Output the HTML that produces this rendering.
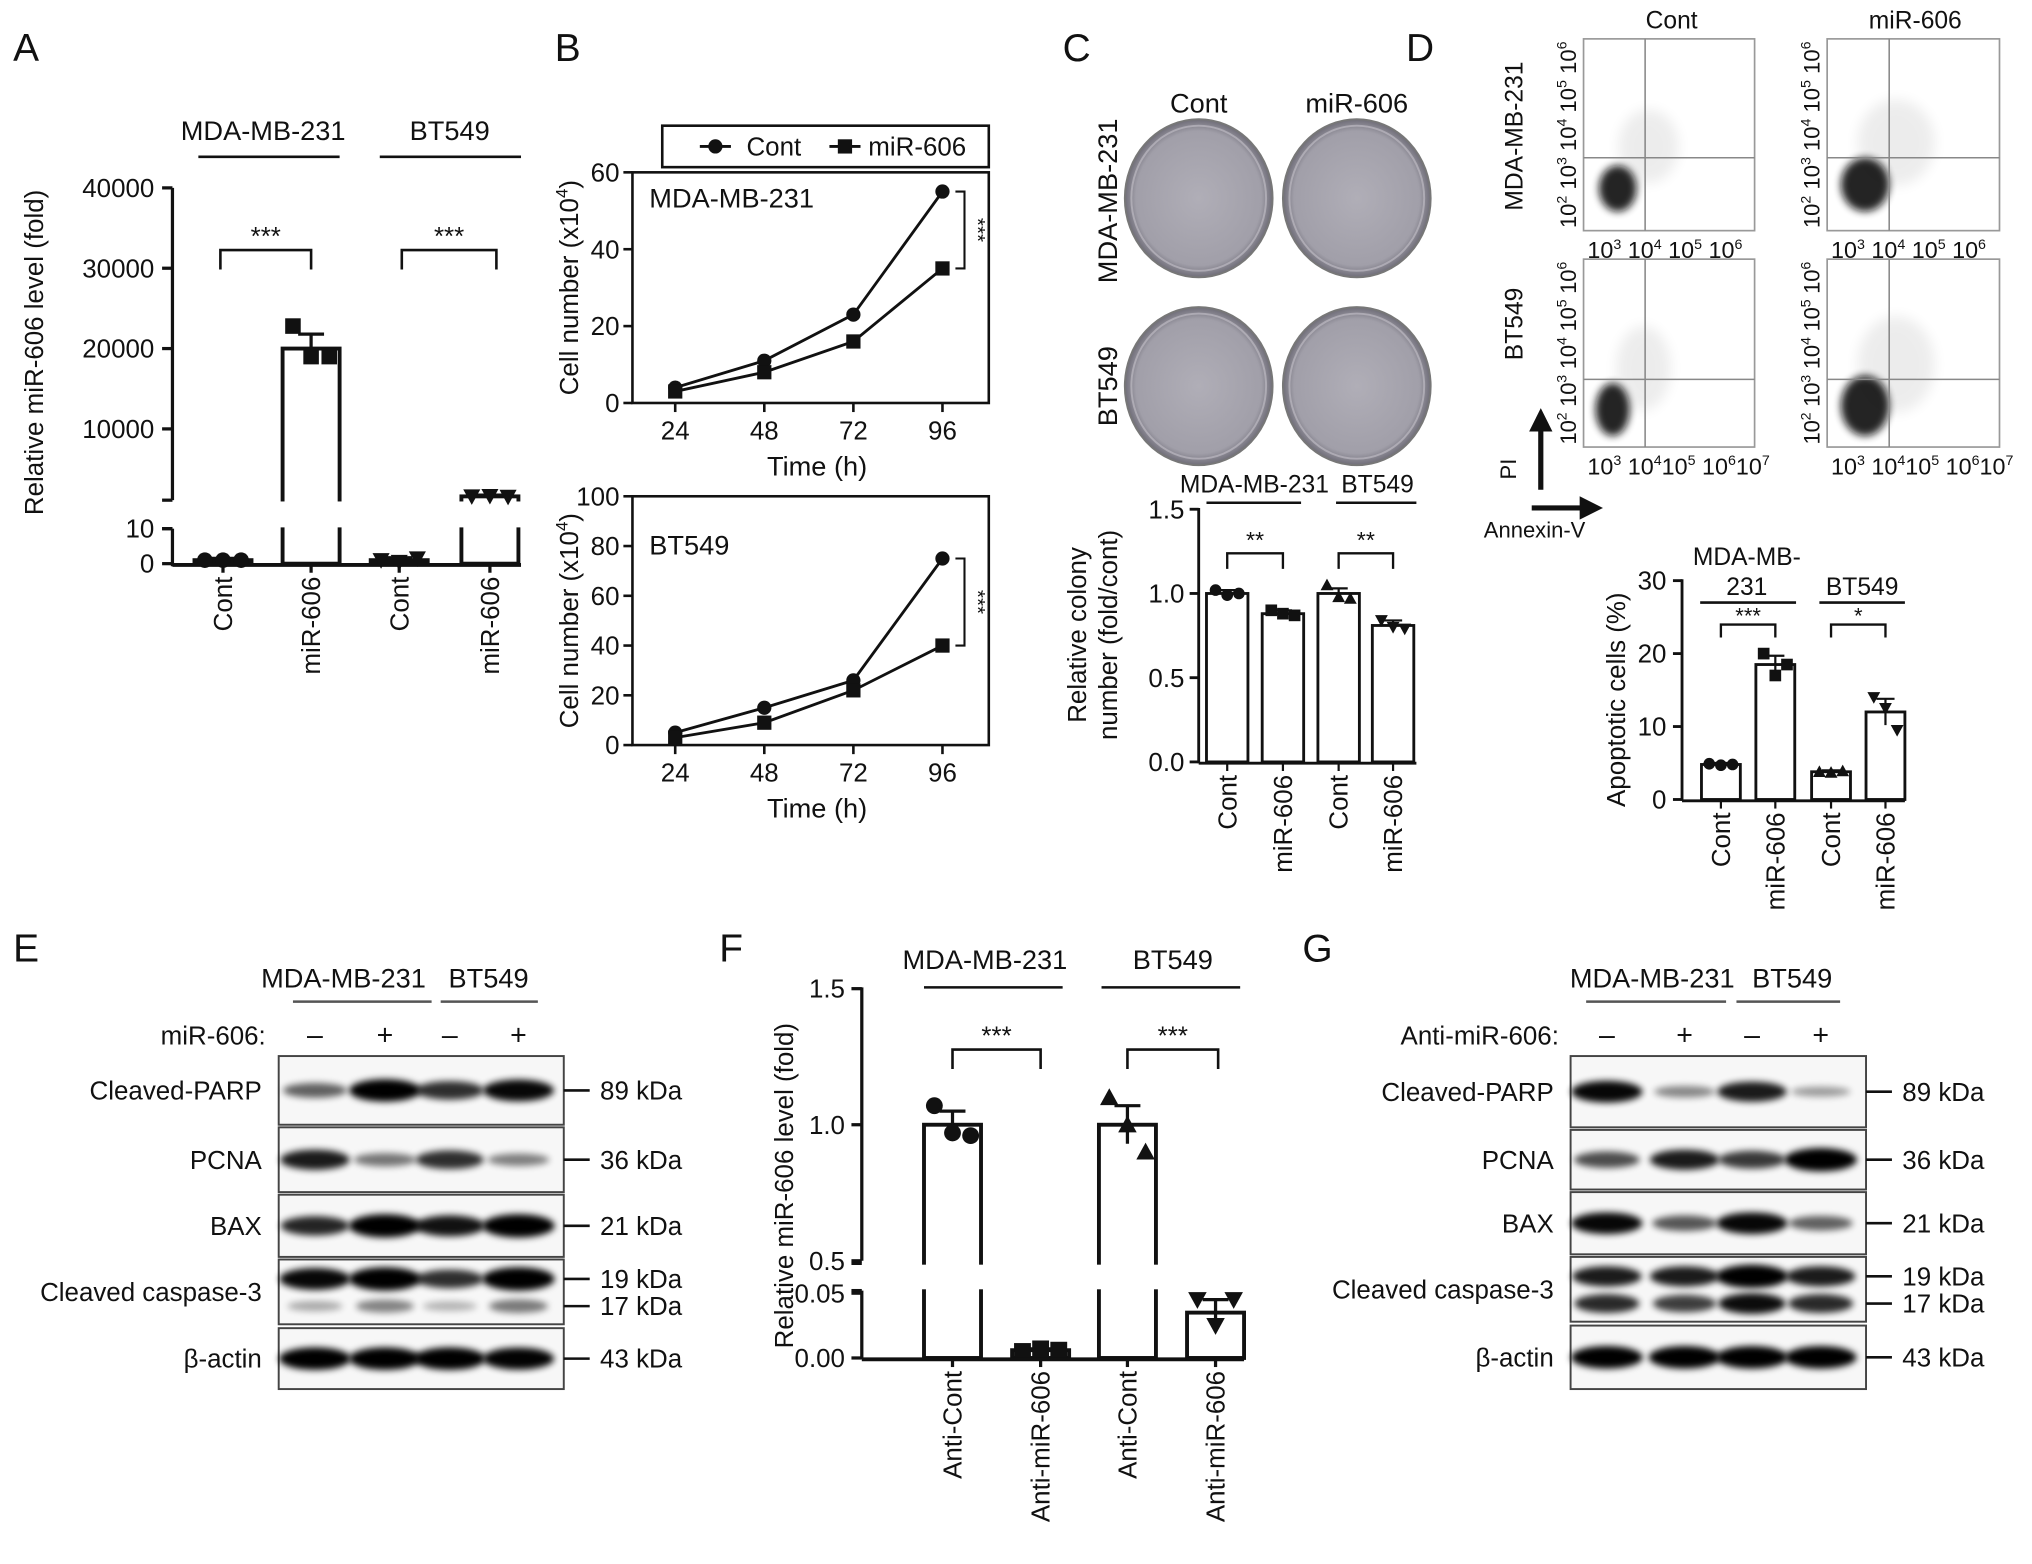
<!DOCTYPE html>
<html><head><meta charset="utf-8">
<style>
html,body{margin:0;padding:0;background:#fff;}
svg{display:block;font-family:"Liberation Sans",Arial,sans-serif;}
text{fill:#111;}
</style></head>
<body>
<svg id="fig" width="2032" height="1564" viewBox="0 0 1568 1207" xmlns="http://www.w3.org/2000/svg">
<defs>
<filter id="blur2" x="-30%" y="-80%" width="160%" height="260%"><feGaussianBlur stdDeviation="2.6"/></filter>
<filter id="blur6" x="-50%" y="-50%" width="200%" height="200%"><feGaussianBlur stdDeviation="5"/></filter>
<filter id="blur3" x="-50%" y="-50%" width="200%" height="200%"><feGaussianBlur stdDeviation="3"/></filter>
<radialGradient id="plate" cx="50%" cy="50%" r="50%">
<stop offset="0%" stop-color="#b0aeb7"/><stop offset="85%" stop-color="#a19fa9"/><stop offset="100%" stop-color="#6f6d78"/>
</radialGradient>
</defs>

<text x="10" y="47" font-size="30">A</text>
<text x="428" y="47" font-size="30">B</text>
<text x="820" y="47" font-size="30">C</text>
<text x="1085" y="47" font-size="30">D</text>
<text x="10" y="742" font-size="30">E</text>
<text x="555" y="742" font-size="30">F</text>
<text x="1005" y="742" font-size="30">G</text>

<g id="gA"></g>
<g id="gB1"></g>
<g id="gB2"></g>
<g id="gC"></g>
<g id="gD"></g>
<g id="gE"></g>
<g id="gF"></g>
<g id="gG"></g>
</svg>

<script>
// ===== Data arrays =====
const A_cats = ['Cont','miR-606','Cont','miR-606'];
const A_means = [1, 20000, 1, 1600];
const A_errs = [0.5, 1800, 0.7, 150];
const A_pts = [[1,1,1],[22800,19000,19000],[1,0.5,1.5],[1600,1650,1550]];
const A_ticks = [0,10,10000,20000,30000,40000];

const B_times = [24,48,72,96];
const B1_cont = [4,11,23,55];
const B1_mir = [3,8,16,35];
const B1_ticks = [0,20,40,60];
const B2_cont = [5,15,26,75];
const B2_mir = [3,9,22,40];
const B2_ticks = [0,20,40,60,80,100];

const C_cats = ['Cont','miR-606','Cont','miR-606'];
const C_means = [1.0,0.88,1.0,0.81];
const C_errs = [0.02,0.02,0.03,0.03];
const C_pts = [[1.02,0.99,1.0],[0.9,0.88,0.87],[1.05,0.98,0.97],[0.84,0.8,0.79]];
const C_ticks = [0.0,0.5,1.0,1.5];

const D_cats = ['Cont','miR-606','Cont','miR-606'];
const D_means = [4.8,18.5,3.8,12];
const D_errs = [0.2,1.2,0.2,1.8];
const D_pts = [[4.9,4.7,4.8],[20,17,18.5],[3.8,3.7,3.9],[14,12.5,9.5]];
const D_ticks = [0,10,20,30];

const F_cats = ['Anti-Cont','Anti-miR-606','Anti-Cont','Anti-miR-606'];
const F_means = [1.0,0.006,1.0,0.035];
const F_errs = [0.05,0.001,0.07,0.01];
const F_pts = [[1.07,0.97,0.96],[0.005,0.007,0.006],[1.1,1.0,0.9],[0.045,0.025,0.045]];
const F_ticks = [0.00,0.05,0.5,1.0,1.5];

const E_proteins = ['Cleaved-PARP','PCNA','BAX','Cleaved caspase-3','β-actin'];
const E_kda = ['89 kDa','36 kDa','21 kDa','19 kDa','43 kDa'];
const E_int = [[0.45,0.95,0.7,0.9],[0.8,0.35,0.7,0.3],[0.75,1,0.85,1],[0.9,1,0.7,1],[0.95,0.95,0.95,0.92]];
const E_int17 = [0.2,0.4,0.15,0.45];
const G_int = [[0.9,0.25,0.8,0.15],[0.55,0.8,0.65,1],[0.9,0.5,0.9,0.45],[0.8,0.8,1,0.8],[0.95,0.95,0.95,0.95]];
const G_int17 = [0.85,0.75,1,0.85];

const NS='http://www.w3.org/2000/svg';
function el(tag, parent, attrs){
  const e=document.createElementNS(NS,tag);
  for(const k in attrs) e.setAttribute(k,attrs[k]);
  parent.appendChild(e); return e;
}
function txt(parent, x, y, s, size, anchor, rot){
  const t=el('text',parent,{x:rot?0:x,y:rot?0:y,'font-size':size,'text-anchor':anchor||'start'});
  if(rot) t.setAttribute('transform','translate('+x+','+y+') rotate('+rot+')');
  t.textContent=s; return t;
}
function line(p,x1,y1,x2,y2,w,c){return el('line',p,{x1,y1,x2,y2,stroke:c||'#111','stroke-width':w||2});}
function marker(p,type,cx,cy,s){
  let m;
  if(type==='circle') m=el('circle',p,{cx,cy,r:s,fill:'#111'});
  else if(type==='square') m=el('rect',p,{x:cx-s,y:cy-s,width:2*s,height:2*s,fill:'#111'});
  else if(type==='tri') m=el('polygon',p,{points:(cx)+','+(cy-s*1.1)+' '+(cx-s*1.1)+','+(cy+s*0.9)+' '+(cx+s*1.1)+','+(cy+s*0.9),fill:'#111'});
  else m=el('polygon',p,{points:(cx)+','+(cy+s*1.1)+' '+(cx-s*1.1)+','+(cy-s*0.9)+' '+(cx+s*1.1)+','+(cy-s*0.9),fill:'#111'});
  return m;
}

function barChart(g, o){
  for(let i=0;i<o.means.length;i++){
    const cx=o.xs[i], yt=o.y(o.means[i]);
    const r=el('rect',g,{x:cx-o.bw/2,y:yt,width:o.bw,height:o.base-yt,fill:'#fff',stroke:'#111','stroke-width':o.sw});
    
    
    if(o.brk){ el('rect',g,{x:cx-o.bw/2-3,y:o.brk[0]+1,width:o.bw+6,height:o.brk[1]-o.brk[0]-2,fill:'#fff'}); }
    const e1=o.y(o.means[i]+o.errs[i]), e0=o.y(Math.max(o.means[i]-o.errs[i],0));
    const eb=el('path',g,{d:'M'+cx+','+e0+'V'+e1+'M'+(cx-o.cap)+','+e1+'H'+(cx+o.cap),stroke:'#111','stroke-width':o.sw-0.5,fill:'none'});
    
    
    const offs=[-o.jit,0,o.jit];
    o.pts[i].forEach((v,j)=>{
      const m=marker(g,o.mk[i],cx+offs[j],o.y(v),o.ms);
      
      
    });
    const lb=txt(g,cx+o.fs*0.35,o.base+10,o.cats[i],o.fs,'end',-90);
    
    
    line(g,cx,o.base,cx,o.base+7,o.sw-0.5);
  }
}
function bracket(g,x1,x2,y,h,label,fs,w,ty){
  el('path',g,{d:'M'+x1+','+(y+h)+'V'+y+'H'+x2+'V'+(y+h),stroke:'#111','stroke-width':w||2,fill:'none'});
  const t=txt(g,(x1+x2)/2,ty||(y-4),label,fs,'middle');
  
  
}
function groupHead(g,cx,y,s,x1,x2,ly,fs){
  const t=txt(g,cx,y,s,fs,'middle');
  
  
  line(g,x1,ly,x2,ly,2);
}

// ===== Panel A =====
(function(){
  const g=document.getElementById('gA');
  const yA=v=> v<=10 ? 435-v*2.7 : 393-v*0.0062;
  const ax=133;
  line(g,ax,145,ax,386,2.5); line(g,ax,408,ax,437,2.5);
  line(g,ax-8,386,ax,386,2.5); line(g,ax-8,408,ax,408,2.5);
  A_ticks.forEach(t=>{
    const y=yA(t); line(g,ax-8,y,ax,y,2.5);
    const tl=txt(g,ax-14,y+7,String(t),20,'end');
    
    
  });
  const yl=txt(g,33,272,'Relative miR-606 level (fold)',20,'middle',-90);
  
  
  barChart(g,{tag:'a',xs:[172,240,308,378],bw:44,sw:3,base:435,y:yA,means:A_means,errs:A_errs,pts:A_pts,mk:['circle','square','tridown','tridown'],ms:6,jit:14,cap:10,cats:A_cats,fs:20,brk:[386,408]});
  line(g,ax,436,402,436,3);
  groupHead(g,203,108,'MDA-MB-231',153,262,121,21);
  groupHead(g,347,108,'BT549',293,402,121,21);
  bracket(g,170,240,193,15,'***',20,2);
  bracket(g,310,383,193,15,'***',20,2);
})();

// ===== Panel B =====
function lineChart(g, o){
  const x0=o.box[0],x1=o.box[1],y0=o.box[2],y1=o.box[3];
  const xs=t=> x0+(x1-x0)*(0.12+0.25*B_times.indexOf(t));
  const ys=v=> y1-(v/o.max)*(y1-y0);
  el('rect',g,{x:x0,y:y0,width:x1-x0,height:y1-y0,fill:'none',stroke:'#111','stroke-width':2});
  o.ticks.forEach(t=>{
    const y=ys(t); line(g,x0-7,y,x0,y,2);
    const tl=txt(g,x0-10,y+7,String(t),20,'end');
    
    
  });
  B_times.forEach(t=>{
    const x=xs(t); line(g,x,y1,x,y1+7,2);
    const tl=txt(g,x,y1+28,String(t),20,'middle');
    
    
  });
  [[o.cont,'circle','cont'],[o.mir,'square','mir606']].forEach(([arr,mk,nm])=>{
    const pl=el('polyline',g,{points:arr.map((v,i)=>xs(B_times[i])+','+ys(v)).join(' '),fill:'none',stroke:'#111','stroke-width':2.2});
    
    
    arr.forEach((v,i)=>{
      const m=marker(g,mk,xs(B_times[i]),ys(v),5.5);
      
      
    });
  });
  const bx=xs(96)+17, ya=ys(o.cont[3]), yb=ys(o.mir[3]);
  el('path',g,{d:'M'+(bx-7)+','+ya+'H'+bx+'V'+yb+'H'+(bx-7),fill:'none',stroke:'#111','stroke-width':1.6});
  const st=txt(g,bx+5,(ya+yb)/2,'***',16,'middle',90);
  
  
  const nt=txt(g,x0+13,o.nameY,o.name,21,'start');
  
  
  const yl=txt(g,x0-42,(y0+y1)/2,'',20,'middle',-90);
  yl.innerHTML='Cell number (x10<tspan dy="-8" font-size="13">4</tspan><tspan dy="8">)</tspan>';
  
  
  const xl=txt(g,(x0+x1)/2+5,y1+56,'Time (h)',21,'middle');
  
  
}
(function(){
  const g=document.getElementById('gB1');
  const lg=el('g',g,{});
  
  
  el('rect',lg,{x:511,y:97,width:252,height:32,fill:'#fff',stroke:'#111','stroke-width':2});
  line(lg,540,113,564,113,2.2); marker(lg,'circle',552,113,5.5);
  txt(lg,576,120,'Cont',20);
  line(lg,640,113,664,113,2.2); marker(lg,'square',652,113,5.5);
  txt(lg,670,120,'miR-606',20);
  lineChart(g,{tag:'b-mda',box:[488,763,133,311],max:60,ticks:B1_ticks,cont:B1_cont,mir:B1_mir,name:'MDA-MB-231',nameY:160});
  lineChart(document.getElementById('gB2'),{tag:'b-bt549',box:[488,763,383,575],max:100,ticks:B2_ticks,cont:B2_cont,mir:B2_mir,name:'BT549',nameY:428});
})();

// ===== Panel C =====
(function(){
  const g=document.getElementById('gC');
  txt(g,925,87,'Cont',21,'middle');
  txt(g,1047,87,'miR-606',21,'middle');
  const r1=txt(g,862,155,'MDA-MB-231',21,'middle',-90);
  
  
  const r2=txt(g,862,298,'BT549',21,'middle',-90);
  
  
  [[925,153],[1047,153],[925,298],[1047,298]].forEach((p,i)=>{
    const e=el('ellipse',g,{cx:p[0],cy:p[1],rx:57,ry:61,fill:'url(#plate)',stroke:'#777','stroke-width':1.5});
    
    
    el('ellipse',g,{cx:p[0],cy:p[1],rx:52,ry:56,fill:'none',stroke:'#c4c2c9','stroke-width':1.5,opacity:0.6});
  });
  const yC=v=>588-v*130;
  const ax=925;
  line(g,ax,392,ax,589,2.2);
  C_ticks.forEach(t=>{
    const y=yC(t); line(g,ax-7,y,ax,y,2.2);
    const tl=txt(g,ax-11,y+7,t.toFixed(1),20,'end');
    
    
  });
  const yl1=txt(g,838,490,'Relative colony',20,'middle',-90);
  
  
  txt(g,862,490,'number (fold/cont)',20,'middle',-90);
  barChart(g,{tag:'c',xs:[947,990,1033,1075],bw:32,sw:2.2,base:588,y:yC,means:C_means,errs:C_errs,pts:C_pts,mk:['circle','square','tri','tridown'],ms:4.5,jit:9,cap:7,cats:C_cats,fs:20});
  line(g,ax,589,1093,589,2.2);
  groupHead(g,968,380,'MDA-MB-231',931,1004,388,19);
  groupHead(g,1063,380,'BT549',1031,1093,388,19);
  bracket(g,947,990,427,12,'**',18,1.8);
  bracket(g,1033,1075,427,12,'**',18,1.8);
})();

// ===== Panel D =====
(function(){
  const g=document.getElementById('gD');
  const boxes=[[1222,1354,30,178],[1410,1543,30,178],[1222,1354,200,345],[1410,1543,200,345]];
  const blobs=[[0.2,0.78,0.11,0.12],[0.22,0.76,0.14,0.14],[0.17,0.8,0.1,0.14],[0.22,0.78,0.14,0.16]];
  txt(g,1290,22,'Cont',19,'middle');
  txt(g,1478,22,'miR-606',19,'middle');
  const rl1=txt(g,1175,105,'MDA-MB-231',19,'middle',-90);
  
  
  const rl2=txt(g,1175,250,'BT549',19,'middle',-90);
  
  
  boxes.forEach((b,i)=>{
    const [x0,x1,y0,y1]=b, w=x1-x0, h=y1-y0;
    const fr=el('rect',g,{x:x0,y:y0,width:w,height:h,fill:'#fff',stroke:'#999','stroke-width':1.3});
    
    
    const bl=blobs[i];
    el('ellipse',g,{cx:x0+w*(bl[0]+0.18),cy:y0+h*(bl[1]-0.22),rx:w*bl[2]*1.6,ry:h*bl[3]*1.6,fill:'#000',opacity:0.07,filter:'url(#blur6)'});
    el('ellipse',g,{cx:x0+w*bl[0],cy:y0+h*bl[1],rx:w*bl[2],ry:h*bl[3],fill:'#111',opacity:0.9,filter:'url(#blur3)'});
    line(g,x0+w*0.36,y0,x0+w*0.36,y1,1.2,'#888');
    line(g,x0,y0+h*(i<2?0.62:0.64),x1,y0+h*(i<2?0.62:0.64),1.2,'#888');
    const row2=i>=2;
    const yl=txt(g,x0-6,y1-2,'',17,'start',-90);
    yl.setAttribute('textLength',h-4);
    yl.innerHTML='10<tspan dy="-7" font-size="11">2</tspan><tspan dy="7"> 10</tspan><tspan dy="-7" font-size="11">3</tspan><tspan dy="7"> 10</tspan><tspan dy="-7" font-size="11">4</tspan><tspan dy="7"> 10</tspan><tspan dy="-7" font-size="11">5</tspan><tspan dy="7"> 10</tspan><tspan dy="-7" font-size="11">6</tspan>';
    
    
    const xl=txt(g,x0+3,y1+21,'',18,'start');
    xl.innerHTML = row2
      ? '10<tspan dy="-7" font-size="11">3</tspan><tspan dy="7"> 10</tspan><tspan dy="-7" font-size="11">4</tspan><tspan dy="7">10</tspan><tspan dy="-7" font-size="11">5</tspan><tspan dy="7"> 10</tspan><tspan dy="-7" font-size="11">6</tspan><tspan dy="7">10</tspan><tspan dy="-7" font-size="11">7</tspan>'
      : '10<tspan dy="-7" font-size="11">3</tspan><tspan dy="7"> 10</tspan><tspan dy="-7" font-size="11">4</tspan><tspan dy="7">  10</tspan><tspan dy="-7" font-size="11">5</tspan><tspan dy="7">  10</tspan><tspan dy="-7" font-size="11">6</tspan>';
    
    
  });
  line(g,1189,378,1189,330,4);
  el('polygon',g,{points:'1189,315 1180,333 1198,333',fill:'#111'});
  txt(g,1170,362,'PI',17,'middle',-90);
  line(g,1182,392,1222,392,4);
  el('polygon',g,{points:'1237,392 1219,383 1219,401',fill:'#111'});
  const an=txt(g,1145,415,'Annexin-V',17,'start');
  
  

  const yD=v=>617-v*5.63;
  const ax=1298;
  line(g,ax,447,ax,618,2.2);
  D_ticks.forEach(t=>{
    const y=yD(t); line(g,ax-7,y,ax,y,2.2);
    const tl=txt(g,ax-12,y+7,String(t),20,'end');
    
    
  });
  const ylab=txt(g,1254,540,'Apoptotic cells (%)',20,'middle',-90);
  
  
  barChart(g,{tag:'d',xs:[1328,1370,1413,1455],bw:30,sw:2.2,base:617,y:yD,means:D_means,errs:D_errs,pts:D_pts,mk:['circle','square','tri','tridown'],ms:4.5,jit:9,cap:7,cats:D_cats,fs:20});
  line(g,ax,618,1470,618,2.2);
  txt(g,1348,436,'MDA-MB-',19,'middle');
  groupHead(g,1348,459,'231',1312,1386,465,19);
  groupHead(g,1437,459,'BT549',1404,1470,465,19);
  bracket(g,1328,1370,482,10,'***',17,1.8,481);
  bracket(g,1413,1455,482,10,'*',17,1.8,481);
})();

// ===== Western blots =====
function blot(g, o){
  txt(g,o.h1,762,'MDA-MB-231',21,'middle');
  line(g,o.l1[0],773,o.l1[1],773,2,'#555');
  txt(g,o.h2,762,'BT549',21,'middle');
  line(g,o.l2[0],773,o.l2[1],773,2,'#555');
  const tl=txt(g,o.tx,806,o.treat,20,'end');
  
  
  ['–','+','–','+'].forEach((s,i)=>txt(g,o.lanes[i],806,s,22,'middle'));
  o.rows.forEach((r,ri)=>{
    const [y0,y1]=r;
    const fr=el('rect',g,{x:o.x0,y:y0,width:o.x1-o.x0,height:y1-y0,fill:'#f7f7f7',stroke:'#444','stroke-width':1.5});
    
    
    const lab=txt(g,o.x0-13,(y0+y1)/2+7,E_proteins[ri],20,'end');
    
    
    const isC=ri===3;
    const by = isC ? y0+(y1-y0)*0.3 : (y0+y1)/2;
    o.int[ri].forEach((v,li)=>{
      const b=el('ellipse',g,{cx:o.lanes[li],cy:by,rx:22+6*v,ry:3+6*v,fill:'#000',opacity:Math.min(1,0.25+0.8*v),filter:'url(#blur2)'});
      
      
    });
    if(isC){
      const by2=y0+(y1-y0)*0.72;
      o.int17.forEach((v,li)=>{
        const b=el('ellipse',g,{cx:o.lanes[li],cy:by2,rx:20+6*v,ry:3+5*v,fill:'#000',opacity:Math.min(1,0.15+0.8*v),filter:'url(#blur2)'});
        
        
      });
      line(g,o.x1,by,o.x1+20,by,2);
      txt(g,o.x1+28,by+7,'19 kDa',20);
      line(g,o.x1,by2,o.x1+20,by2,2);
      txt(g,o.x1+28,by2+7,'17 kDa',20);
    } else {
      line(g,o.x1,by,o.x1+20,by,2);
      const k=txt(g,o.x1+28,by+7,E_kda[ri],20);
      
      
    }
  });
}
blot(document.getElementById('gE'),{h1:265,h2:377,l1:[226,333],l2:[340,415],tx:205,treat:'miR-606:',lanes:[243,297,347,400],x0:215,x1:435,
  rows:[[815,868],[870,920],[922,970],[972,1022],[1025,1072]],int:E_int,int17:E_int17});
blot(document.getElementById('gG'),{h1:1275,h2:1383,l1:[1224,1332],l2:[1340,1420],tx:1203,treat:'Anti-miR-606:',lanes:[1240,1300,1352,1405],x0:1212,x1:1440,
  rows:[[815,870],[872,918],[920,968],[970,1020],[1023,1072]],int:G_int,int17:G_int17});

// ===== Panel F =====
(function(){
  const g=document.getElementById('gF');
  const yF=v=> v<=0.05 ? 1048-v*1000 : 973-(v-0.5)*210;
  const ax=665;
  line(g,ax,762,ax,973,2.5); line(g,ax,996,ax,1049,2.5);
  line(g,ax-8,975,ax,975,2.5); line(g,ax-8,996,ax,996,2.5);
  F_ticks.forEach(t=>{
    const y=yF(t); line(g,ax-8,y,ax,y,2.5);
    const lbl = t<0.1 ? t.toFixed(2) : t.toFixed(1);
    const tl=txt(g,ax-13,y+7,lbl,20,'end');
    
    
  });
  const yl=txt(g,612,915,'Relative miR-606 level (fold)',20,'middle',-90);
  
  
  barChart(g,{tag:'f',xs:[735,803,870,938],bw:44,sw:3,base:1048,y:yF,means:F_means,errs:F_errs,pts:F_pts,mk:['circle','square','tri','tridown'],ms:6.5,jit:14,cap:10,cats:F_cats,fs:20,brk:[975,996]});
  line(g,ax,1049,960,1049,3);
  groupHead(g,760,748,'MDA-MB-231',713,820,762,21);
  groupHead(g,905,748,'BT549',850,957,762,21);
  bracket(g,735,803,810,15,'***',20,2);
  bracket(g,870,940,810,15,'***',20,2);
})();
</script>
</body></html>
